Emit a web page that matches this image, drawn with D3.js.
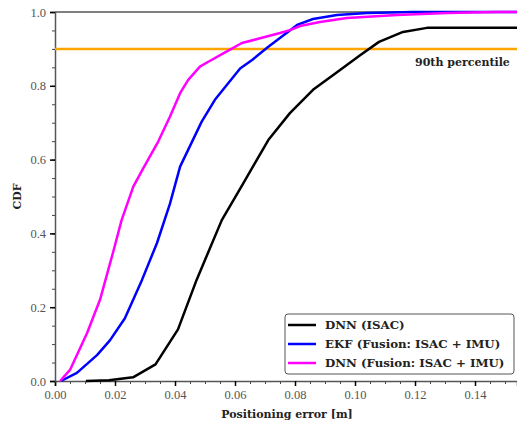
<!DOCTYPE html>
<head>
    <meta charset="utf-8">
    <title>CDF of positioning error</title>
    <style>
        body { margin: 0; background: #fff; }
    </style>
</head>
<body>
    <script src="https://d3js.org/d3.v7.min.js"></script>
    <script>

        // errors [m] and cdf values
        var dnnIsacX = [0.0103, 0.018, 0.026, 0.0335, 0.041, 0.0472, 0.0556, 0.0628, 0.0711, 0.0783, 0.086, 0.094, 0.1017, 0.108, 0.116, 0.124, 0.154];
        var dnnIsacY = [0, 0.002, 0.01, 0.045, 0.14, 0.274, 0.436, 0.536, 0.653, 0.726, 0.789, 0.837, 0.883, 0.919, 0.946, 0.957, 0.957];

        var ekfX = [0.002, 0.0073, 0.014, 0.0183, 0.0233, 0.029, 0.034, 0.0383, 0.0417, 0.0489, 0.0533, 0.0617, 0.0657, 0.071, 0.0807, 0.086, 0.094, 0.104, 0.1193, 0.154];
        var ekfY = [0, 0.022, 0.07, 0.11, 0.17, 0.274, 0.374, 0.48, 0.581, 0.703, 0.762, 0.847, 0.87, 0.905, 0.965, 0.981, 0.992, 0.997, 1.0, 1.0];

        var dnnFusionX = [0.0017, 0.005, 0.0107, 0.015, 0.0193, 0.0222, 0.0261, 0.0294, 0.0344, 0.0383, 0.0417, 0.0444, 0.0483, 0.0517, 0.0561, 0.0623, 0.069, 0.075, 0.0783, 0.0817, 0.0883, 0.0973, 0.114, 0.1307, 0.147, 0.154];
        var dnnFusionY = [0, 0.03, 0.13, 0.22, 0.347, 0.436, 0.527, 0.576, 0.649, 0.716, 0.78, 0.816, 0.852, 0.868, 0.888, 0.916, 0.93, 0.943, 0.951, 0.962, 0.973, 0.984, 0.992, 0.997, 1.0, 1.0];

        var seriesNames = ["DNN (ISAC)", "EKF (Fusion: ISAC + IMU)", "DNN (Fusion: ISAC + IMU)"];
        var seriesColors = ["#000000", "#0000ff", "#ff00ff"];
        var xTicks = [0, 0.02, 0.04, 0.06, 0.08, 0.10, 0.12, 0.14];
        var yTicks = [0, 0.2, 0.4, 0.6, 0.8, 1.0];
        var percentile = 0.9;

        var tickFont = '"Liberation Serif", serif';
        var labelFont = '"DejaVu Serif", "Liberation Serif", serif';

        var margin = { top: 12, right: 0, bottom: 43, left: 55 },
            width = 517 - margin.left - margin.right,
            height = 424 - margin.top - margin.bottom;

        var x = d3.scaleLinear().domain([0, 0.154]).range([0, width]);
        var y = d3.scaleLinear().domain([0, 1]).range([height, 0]);

        var svg = d3.select('body').append('svg')
            .attr('width', 517)
            .attr('height', 424)
            .append('g')
            .attr('transform', 'translate(' + margin.left + ',' + margin.top + ')');

        var series = [
            { name: seriesNames[0], color: seriesColors[0], pts: d3.zip(dnnIsacX, dnnIsacY) },
            { name: seriesNames[1], color: seriesColors[1], pts: d3.zip(ekfX, ekfY) },
            { name: seriesNames[2], color: seriesColors[2], pts: d3.zip(dnnFusionX, dnnFusionY) }
        ];

        // top spine
        svg.append('line')
            .attr('x1', 0).attr('x2', width)
            .attr('y1', 0).attr('y2', 0)
            .attr('stroke', '#000').attr('stroke-width', 1);

        svg.append('defs').append('clipPath').attr('id', 'clip')
            .append('rect').attr('x', 0).attr('y', -2).attr('width', width).attr('height', height + 4);

        // minor ticks
        var xMinor = d3.range(0, 0.1541, 0.005);
        var yMinor = d3.range(0, 1.001, 0.05);

        svg.append('g')
            .attr('transform', 'translate(0,' + height + ')')
            .call(d3.axisBottom(x).tickValues(xMinor).tickSize(3).tickFormat(''))
            .call(g => g.select('.domain').remove())
            .selectAll('line').attr('stroke', '#444').attr('stroke-width', 1);

        svg.append('g')
            .call(d3.axisLeft(y).tickValues(yMinor).tickSize(3).tickFormat(''))
            .call(g => g.select('.domain').remove())
            .selectAll('line').attr('stroke', '#444').attr('stroke-width', 1);

        var xAxis = svg.append('g')
            .attr('class', 'x axis')
            .attr('transform', 'translate(0,' + height + ')')
            .call(d3.axisBottom(x).tickValues(xTicks).tickSize(5).tickPadding(4).tickFormat(d3.format('.2f')));

        var yAxis = svg.append('g')
            .attr('class', 'y axis')
            .call(d3.axisLeft(y).tickValues(yTicks).tickSize(5).tickPadding(4).tickFormat(d3.format('.1f')));

        [xAxis, yAxis].forEach(function (g) {
            g.select('.domain').attr('stroke', '#555').attr('stroke-width', 1.5);
            g.selectAll('.tick line').attr('stroke', '#000').attr('stroke-width', 1.5);
            g.selectAll('.tick text')
                .attr('fill', '#555')
                .style('font-family', tickFont)
                .style('font-size', '12.5px');
        });

        // 90th percentile line
        svg.append('line')
            .attr('x1', 0).attr('x2', width)
            .attr('y1', y(percentile)).attr('y2', y(percentile))
            .attr('stroke', '#ffa500').attr('stroke-width', 2.5);

        function boldLabel(sel) {
            return sel.style('font-family', labelFont)
                .style('font-size', '11px')
                .style('font-weight', 'bold')
                .attr('fill', '#222');
        }

        svg.append('text')
            .attr('x', 415 - margin.left)
            .attr('y', y(percentile) + 17)
            .call(boldLabel)
            .text('90th percentile');

        var line = d3.line()
            .x(function (d) { return x(d[0]); })
            .y(function (d) { return y(d[1]); });

        svg.append('g').attr('clip-path', 'url(#clip)')
            .selectAll('path.cdf')
            .data(series)
            .enter().append('path')
            .attr('class', 'cdf')
            .attr('d', function (d) { return line(d.pts); })
            .attr('fill', 'none')
            .attr('stroke', function (d) { return d.color; })
            .attr('stroke-width', 2.5)
            .attr('stroke-linejoin', 'round');

        // legend
        var legend = svg.append('g')
            .attr('transform', 'translate(' + (285 - margin.left) + ',' + (314 - margin.top) + ')');

        legend.append('rect')
            .attr('width', 229).attr('height', 60)
            .attr('rx', 3)
            .attr('fill', '#fff')
            .attr('stroke', '#555').attr('stroke-width', 1);

        var item = legend.selectAll('.item')
            .data(series)
            .enter().append('g')
            .attr('transform', function (d, i) { return 'translate(0,' + (11 + i * 19) + ')'; });

        item.append('line')
            .attr('x1', 3).attr('x2', 31)
            .attr('stroke', function (d) { return d.color; })
            .attr('stroke-width', 2.5);

        item.append('text')
            .attr('x', 40)
            .attr('dy', '0.35em')
            .call(boldLabel)
            .style('font-size', '11.8px')
            .text(function (d) { return d.name; });

        svg.append('text')
            .attr('x', 287 - margin.left)
            .attr('y', height + 37)
            .attr('text-anchor', 'middle')
            .call(boldLabel)
            .text('Positioning error [m]');

        svg.append('text')
            .attr('transform', 'translate(' + (-34) + ',' + (y(0.5)) + ') rotate(-90)')
            .attr('text-anchor', 'middle')
            .call(boldLabel)
            .text('CDF');

    </script>
</body>
